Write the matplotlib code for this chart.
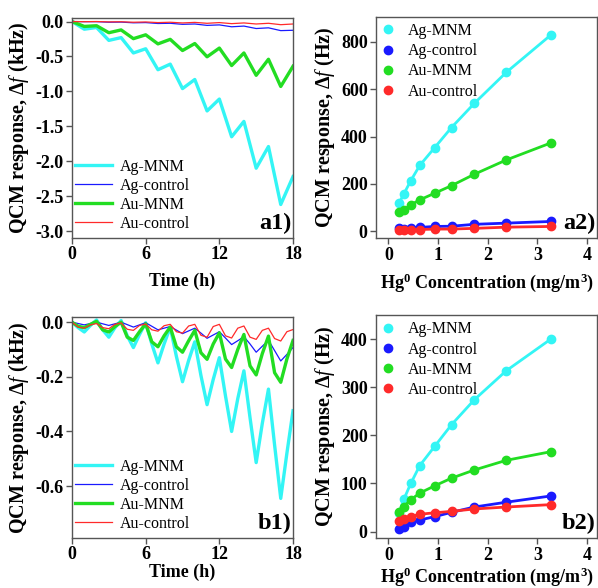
import numpy as np
import matplotlib
matplotlib.use("Agg")
import matplotlib.pyplot as plt

plt.rcParams["font.family"] = ["Liberation Serif", "DejaVu Serif"]
plt.rcParams["mathtext.fontset"] = "custom"
plt.rcParams["mathtext.rm"] = "Liberation Serif:bold"
plt.rcParams["mathtext.it"] = "Liberation Serif:italic"
plt.rcParams["mathtext.bf"] = "Liberation Serif:bold"
plt.rcParams["axes.unicode_minus"] = False

# --- data ---
labels = ["Ag-MNM", "Ag-control", "Au-MNM", "Au-control"]

# a1) hourly response (kHz)
t_a1 = list(range(19))
a1_ag_mnm = [0, -0.11, -0.085, -0.27, -0.23, -0.45, -0.39, -0.69, -0.61, -0.96,
             -0.83, -1.28, -1.11, -1.65, -1.43, -2.10, -1.79, -2.62, -2.22]
a1_ag_ctrl = [0, -0.002, -0.002, -0.010, -0.008, -0.018, -0.015, -0.028, -0.025, -0.040,
              -0.035, -0.055, -0.048, -0.075, -0.065, -0.100, -0.090, -0.130, -0.125]
a1_au_mnm = [0, -0.07, -0.06, -0.16, -0.12, -0.245, -0.19, -0.32, -0.255, -0.415,
             -0.315, -0.505, -0.38, -0.63, -0.45, -0.77, -0.54, -0.93, -0.64]
a1_au_ctrl = [0, -0.002, 0.0, -0.005, -0.003, -0.010, -0.006, -0.015, -0.010, -0.020,
              -0.012, -0.025, -0.015, -0.030, -0.020, -0.035, -0.025, -0.045, -0.035]

# b1) half-hourly response (kHz)
t_b1 = [i * 0.5 for i in range(37)]
b1_ag_mnm = [0, -0.02, -0.036, -0.012, 0.008, -0.028, -0.055, -0.02, 0.006, -0.05,
             -0.093, -0.045, -0.002, -0.08, -0.149, -0.08, -0.018, -0.125, -0.218, -0.14,
             -0.072, -0.195, -0.302, -0.21, -0.13, -0.27, -0.40, -0.28, -0.178, -0.35,
             -0.514, -0.37, -0.245, -0.45, -0.645, -0.48, -0.324]
b1_ag_ctrl = [0, -0.005, -0.01, -0.005, 0, -0.006, -0.012, -0.006, 0, -0.009,
              -0.018, -0.01, -0.002, -0.015, -0.028, -0.022, -0.016, -0.029, -0.042, -0.032,
              -0.022, -0.04, -0.059, -0.047, -0.035, -0.058, -0.082, -0.068, -0.053, -0.08,
              -0.11, -0.088, -0.066, -0.104, -0.142, -0.118, -0.093]
b1_au_mnm = [0, -0.015, -0.02, -0.008, 0.003, -0.028, -0.036, -0.016, 0, -0.055,
             -0.067, -0.035, -0.006, -0.072, -0.09, -0.05, -0.018, -0.09, -0.11, -0.068,
             -0.03, -0.112, -0.136, -0.08, -0.039, -0.135, -0.166, -0.10, -0.045, -0.16,
             -0.193, -0.115, -0.051, -0.185, -0.22, -0.135, -0.067]
b1_au_ctrl = [0, -0.018, -0.022, -0.01, -0.005, -0.02, -0.024, -0.008, -0.003, -0.026,
              -0.03, -0.012, -0.007, -0.028, -0.033, -0.013, -0.008, -0.035, -0.04, -0.014,
              -0.008, -0.048, -0.055, -0.016, -0.008, -0.05, -0.058, -0.022, -0.014, -0.055,
              -0.063, -0.03, -0.022, -0.06, -0.069, -0.035, -0.027]

# a2 / b2) response vs Hg0 concentration (Hz)
conc = [0.21, 0.31, 0.45, 0.63, 0.93, 1.27, 1.73, 2.37, 3.27]
a2_ag_mnm = [118, 158, 214, 278, 353, 438, 540, 670, 828]
a2_ag_ctrl = [13, 10, 15, 17, 21, 22, 30, 35, 42]
a2_au_mnm = [80, 91, 112, 133, 161, 193, 241, 301, 373]
a2_au_ctrl = [4, 4, 7, 8, 10, 10, 13, 18, 21]

b2_ag_mnm = [38, 67, 100, 137, 177, 222, 274, 334, 400]
b2_ag_ctrl = [5, 10, 19, 24, 31, 40, 51, 61, 74]
b2_au_mnm = [40, 52, 66, 80, 95, 111, 128, 148, 166]
b2_au_ctrl = [22, 26, 31, 36, 39, 42, 47, 51, 56]

colors = ["#33F5F5", "#1A1AFF", "#22DD22", "#FF2A2A"]
widths = [2.4, 0.9, 2.4, 0.9]

fig = plt.figure(figsize=(5.98, 5.88), dpi=100)
ax_a1 = fig.add_axes([0.1204, 0.5952, 0.3696, 0.3741])
ax_a2 = fig.add_axes([0.6288, 0.5947, 0.3696, 0.3769])
ax_b1 = fig.add_axes([0.1204, 0.0850, 0.3696, 0.3764])
ax_b2 = fig.add_axes([0.6288, 0.0845, 0.3696, 0.3798])


def style(ax):
    for s in ax.spines.values():
        s.set_color("#555555")
        s.set_linewidth(1.0)
    ax.tick_params(direction="out", length=4, width=1, color="#555555",
                   labelsize=13, pad=2)
    for lab in ax.get_xticklabels() + ax.get_yticklabels():
        lab.set_fontweight("bold")


def time_panel(ax, t, series, ylim, yticks, tag, xpad):
    for y, c, w, lab in zip(series, colors, widths, labels):
        ax.plot(t, y, color=c, lw=w, label=lab)
    ax.set_xlim(0, 18)
    ax.set_xticks([0, 6, 12, 18])
    ax.set_ylim(*ylim)
    ax.set_yticks(yticks)
    ax.set_yticklabels([f"{v:.1f}" for v in yticks])
    ax.set_xlabel("Time (h)", fontsize=13, fontweight="bold", labelpad=xpad)
    ax.set_ylabel(r"QCM response, $\Delta\mathit{f}$ (kHz)", fontsize=14.5,
                  fontweight="bold", labelpad=3)
    ax.legend(loc="lower left", frameon=False, fontsize=11.5, handlelength=2.3,
              labelspacing=0.19, borderaxespad=0.0, handletextpad=0.5,
              bbox_to_anchor=(-0.015, 0.0))
    ax.text(0.995, 0.02, tag, transform=ax.transAxes, ha="right", va="bottom",
            fontsize=17.5, fontweight="bold")
    style(ax)


def conc_panel(ax, series, ylim, yticks, tag, xpad):
    for y, c, lab in zip(series, colors, labels):
        ax.plot(conc, y, color=c, lw=2.0)
        ax.plot(conc, y, "o", color=c, ms=6, label=lab)
    ax.set_xlim(-0.25, 4.2)
    ax.set_xticks([0, 1, 2, 3, 4])
    ax.set_ylim(*ylim)
    ax.set_yticks(yticks)
    ax.set_xlabel(r"Hg$^{\mathbf{0}}$ Concentration (mg/m$^{\mathbf{3}}$)",
                  fontsize=13, fontweight="bold", labelpad=xpad)
    ax.set_ylabel(r"QCM response, $\Delta\mathit{f}$ (Hz)", fontsize=14.5,
                  fontweight="bold", labelpad=3)
    ax.legend(loc="upper left", frameon=False, fontsize=11.5, handlelength=1.0,
              labelspacing=0.26, borderaxespad=0.0, handletextpad=0.7,
              bbox_to_anchor=(-0.01, 1.0))
    ax.text(0.995, 0.02, tag, transform=ax.transAxes, ha="right", va="bottom",
            fontsize=17.5, fontweight="bold")
    style(ax)


time_panel(ax_a1, t_a1, [a1_ag_mnm, a1_ag_ctrl, a1_au_mnm, a1_au_ctrl],
           (-3.1, 0.05), [-3.0, -2.5, -2.0, -1.5, -1.0, -0.5, 0.0], "a1)", 7)
time_panel(ax_b1, t_b1, [b1_ag_mnm, b1_ag_ctrl, b1_au_mnm, b1_au_ctrl],
           (-0.79, 0.02), [-0.6, -0.4, -0.2, 0.0], "b1)", 0)
conc_panel(ax_a2, [a2_ag_mnm, a2_ag_ctrl, a2_au_mnm, a2_au_ctrl],
           (-29, 905), [0, 200, 400, 600, 800], "a2)", 5.5)
conc_panel(ax_b2, [b2_ag_mnm, b2_ag_ctrl, b2_au_mnm, b2_au_ctrl],
           (-14, 450), [0, 100, 200, 300, 400], "b2)", 1.5)

fig.savefig("out.png", dpi=100)
